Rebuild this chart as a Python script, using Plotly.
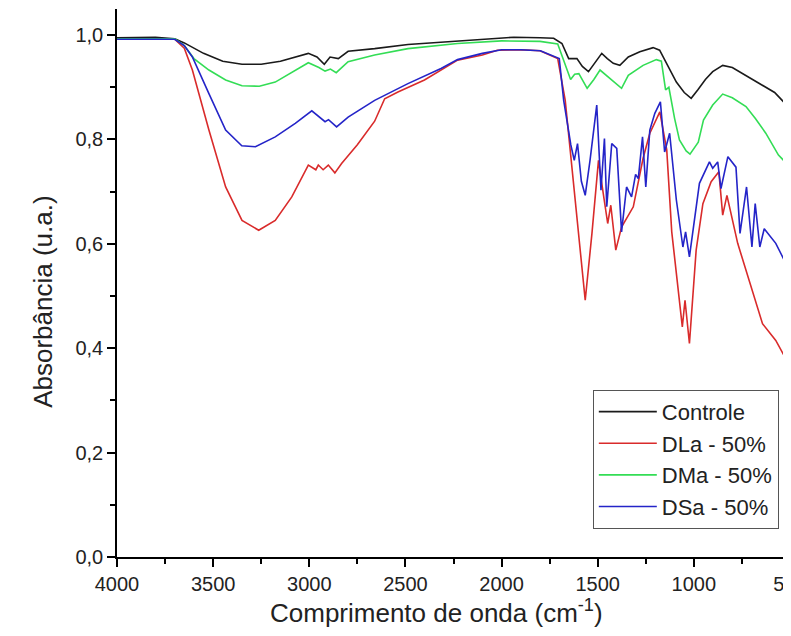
import plotly.graph_objects as go

# Controle
wn_controle = [4000, 3900, 3800, 3700, 3650, 3550, 3450, 3350, 3250, 3150, 3050, 3005, 2960,
               2922, 2892, 2849, 2798, 2660, 2487, 2229, 2050, 1936, 1800, 1729, 1686, 1651,
               1608, 1580, 1548, 1510, 1479, 1450, 1419, 1385, 1341, 1281, 1212, 1178, 1141,
               1091, 1050, 1014, 980, 940, 902, 850, 800, 729, 680, 626, 580, 533, 510, 500]
abs_controle = [0.995, 0.995, 0.996, 0.993, 0.985, 0.965, 0.950, 0.944, 0.944, 0.950, 0.960, 0.965, 0.958,
                0.944, 0.958, 0.955, 0.969, 0.974, 0.982, 0.988, 0.993, 0.996, 0.995, 0.994, 0.984, 0.955,
                0.955, 0.940, 0.930, 0.950, 0.965, 0.955, 0.946, 0.942, 0.958, 0.968, 0.976, 0.971, 0.946,
                0.910, 0.890, 0.879, 0.895, 0.915, 0.930, 0.942, 0.938, 0.923, 0.912, 0.901, 0.890, 0.872, 0.880, 0.875]

# DLa - 50%
wn_dla = [4000, 3700, 3650, 3608, 3522, 3435, 3350, 3263, 3177, 3091, 3005, 2966, 2953, 2928,
          2901, 2867, 2832, 2750, 2660, 2608, 2539, 2401, 2229, 2100, 2022, 1900, 1800, 1746,
          1708, 1669, 1626, 1565, 1530, 1496, 1479, 1448, 1432, 1406, 1376, 1315, 1264, 1229,
          1177, 1141, 1115, 1060, 1046, 1023, 988, 953, 910, 870, 850, 828, 772, 712, 643, 574, 522, 500]
abs_dla = [0.992, 0.992, 0.975, 0.933, 0.818, 0.709, 0.645, 0.626, 0.645, 0.690, 0.751, 0.742, 0.751, 0.742,
           0.751, 0.736, 0.754, 0.790, 0.835, 0.878, 0.891, 0.914, 0.952, 0.962, 0.971, 0.972, 0.970, 0.962,
           0.955, 0.875, 0.716, 0.492, 0.620, 0.760, 0.716, 0.639, 0.674, 0.588, 0.632, 0.671, 0.764, 0.812,
           0.853, 0.780, 0.623, 0.441, 0.492, 0.409, 0.588, 0.677, 0.719, 0.738, 0.655, 0.693, 0.601, 0.530,
           0.447, 0.415, 0.380, 0.375]

# DMa - 50%
wn_dma = [4000, 3700, 3650, 3600, 3522, 3435, 3350, 3260, 3177, 3080, 3005, 2950, 2918, 2890,
          2860, 2798, 2660, 2487, 2229, 2000, 1800, 1708, 1676, 1641, 1620, 1598, 1555, 1520,
          1488, 1436, 1376, 1341, 1264, 1195, 1169, 1147, 1130, 1100, 1075, 1040, 1020, 977,
          950, 902, 850, 800, 729, 680, 626, 560, 520, 500]
abs_dma = [0.993, 0.993, 0.980, 0.955, 0.933, 0.914, 0.903, 0.902, 0.910, 0.930, 0.947, 0.938, 0.931, 0.935,
           0.928, 0.949, 0.962, 0.974, 0.984, 0.989, 0.988, 0.983, 0.952, 0.915, 0.925, 0.926, 0.898, 0.915,
           0.933, 0.917, 0.898, 0.923, 0.942, 0.953, 0.950, 0.895, 0.900, 0.840, 0.799, 0.778, 0.772, 0.795,
           0.837, 0.866, 0.887, 0.880, 0.863, 0.840, 0.812, 0.770, 0.755, 0.750]

# DSa - 50%
wn_dsa = [4000, 3700, 3650, 3608, 3522, 3435, 3351, 3280, 3177, 3073, 2987, 2940, 2918, 2900,
          2858, 2798, 2660, 2487, 2315, 2229, 2100, 2000, 1900, 1798, 1746, 1700, 1677, 1640,
          1622, 1605, 1585, 1565, 1540, 1505, 1483, 1465, 1453, 1427, 1401, 1376, 1350, 1324,
          1303, 1289, 1267, 1250, 1229, 1203, 1174, 1152, 1126, 1091, 1057, 1043, 1023, 971,
          919, 902, 876, 859, 823, 781, 760, 726, 698, 681, 657, 634, 574, 548, 522, 500]
abs_dsa = [0.992, 0.992, 0.980, 0.958, 0.888, 0.818, 0.788, 0.786, 0.805, 0.831, 0.855, 0.840, 0.834, 0.838,
           0.824, 0.843, 0.875, 0.907, 0.936, 0.953, 0.965, 0.972, 0.972, 0.970, 0.962, 0.955, 0.875, 0.790,
           0.760, 0.792, 0.720, 0.693, 0.760, 0.866, 0.703, 0.802, 0.671, 0.792, 0.783, 0.623, 0.709, 0.690,
           0.733, 0.725, 0.805, 0.709, 0.818, 0.850, 0.872, 0.776, 0.812, 0.684, 0.594, 0.623, 0.575, 0.716,
           0.757, 0.745, 0.757, 0.706, 0.767, 0.747, 0.620, 0.709, 0.594, 0.677, 0.594, 0.629, 0.601, 0.582,
           0.563, 0.565]

series = [
    ("Controle", wn_controle, abs_controle, "#1a1a1a"),
    ("DLa - 50%", wn_dla, abs_dla, "#d92b2b"),
    ("DMa - 50%", wn_dma, abs_dma, "#33dd55"),
    ("DSa - 50%", wn_dsa, abs_dsa, "#2424c8"),
]

fig = go.Figure()
for name, x, y, cor in series:
    fig.add_trace(go.Scatter(x=x, y=y, name=name, mode="lines",
                             line=dict(color=cor, width=1.6)))

# a página tem 8px de margem no body: figura um pouco mais larga que a janela,
# para o eixo x continuar até depois da borda direita como no original
fig.update_layout(
    width=800, height=620,
    margin=dict(l=109, r=11, t=1, b=71),
    paper_bgcolor="white", plot_bgcolor="white",
    font=dict(family="Liberation Sans, Arial", size=20, color="#222"),
    separators=",.",
    legend=dict(x=0.707, y=0.305, xanchor="left", yanchor="top",
                bordercolor="#555", borderwidth=1, bgcolor="white",
                font=dict(size=22), tracegroupgap=0, itemwidth=58),
)
# títulos dos eixos como anotações (posição igual à do original)
fig.add_annotation(text="Comprimento de onda (cm<sup>-1</sup>)", xref="paper", yref="paper",
                   x=0.475, y=-0.099, xanchor="center", yanchor="middle",
                   showarrow=False, font=dict(size=26))
fig.add_annotation(text="Absorbância (u.a.)", xref="paper", yref="paper",
                   x=-0.109, y=0.465, xanchor="center", yanchor="middle", textangle=-90,
                   showarrow=False, font=dict(size=26))

fig.update_xaxes(
    range=[4000, 500], tickvals=[4000, 3500, 3000, 2500, 2000, 1500, 1000, 500],
    ticklabeloverflow="allow",
    showline=True, linecolor="black", linewidth=1.5, mirror=False,
    ticks="outside", ticklen=8, tickwidth=1.5, tickcolor="black",
    minor=dict(dtick=250, ticks="outside", ticklen=5, tickwidth=1.5, tickcolor="black"),
    showgrid=False, zeroline=False,
)
fig.update_yaxes(
    range=[0, 1.05], tickvals=[0, 0.2, 0.4, 0.6, 0.8, 1.0], tickformat=".1f",
    showline=True, linecolor="black", linewidth=1.5,
    ticks="outside", ticklen=8, tickwidth=1.5, tickcolor="black",
    minor=dict(dtick=0.1, ticks="outside", ticklen=5, tickwidth=1.5, tickcolor="black"),
    showgrid=False, zeroline=False,
)

fig.write_html("out.html")
